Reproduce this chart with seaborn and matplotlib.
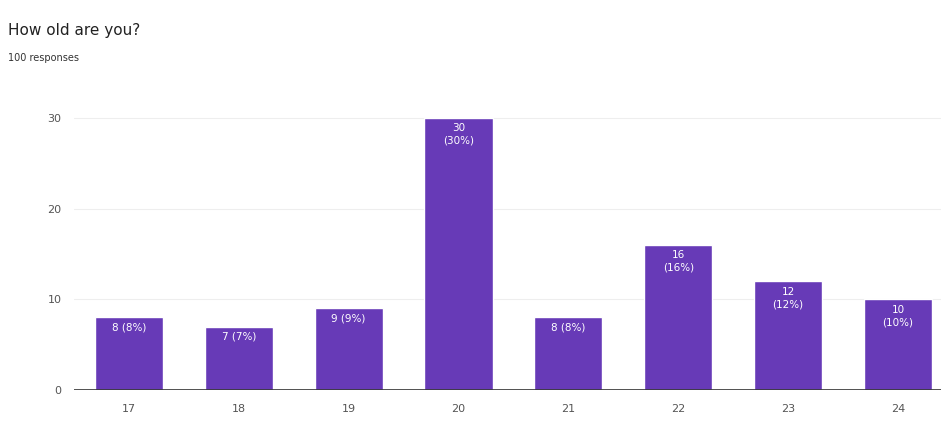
import matplotlib
matplotlib.use("Agg")
import matplotlib.pyplot as plt
import seaborn as sns
import pandas as pd

ages = ["17", "18", "19", "20", "21", "22", "23", "24"]
counts = [8, 7, 9, 30, 8, 16, 12, 10]
total = 100
yticks = [0, 10, 20, 30]

sns.set_theme(style="white")
plt.rcParams['font.family'] = ['DejaVu Sans']

df = pd.DataFrame({"age": ages, "count": counts})

fig = plt.figure(figsize=(9.41, 4.22), dpi=100)
px_per_unit = 272 / 30.0
ymax = 31
bottom_px = 390
top_px = bottom_px - ymax * px_per_unit
ax = fig.add_axes([74 / 941, 1 - bottom_px / 422, 1 - 74 / 941, (bottom_px - top_px) / 422])

sns.barplot(data=df, x="age", y="count", color="#673ab7", saturation=1, width=0.62, ax=ax, zorder=3)

ax.set_xlim(-0.5, 7 + (941 - 898) / 110)
ax.set_ylim(0, ymax)
ax.set_yticks(yticks)
ax.set_xlabel("")
ax.set_ylabel("")
for s in ax.spines.values():
    s.set_visible(False)
ax.axhline(0, color="#333333", lw=1.2, zorder=4)
for y in yticks[1:]:
    ax.axhline(y, color="#eeeeee", lw=0.8, zorder=1)
ax.tick_params(axis="both", length=0, labelsize=8, labelcolor="#555555")
ax.tick_params(axis="y", pad=9)
ax.tick_params(axis="x", pad=10)

for i, c in enumerate(counts):
    pct = round(100 * c / total)
    if c >= 10:
        txt = f"{c}\n({pct}%)"
    else:
        txt = f"{c} ({pct}%)"
    ax.text(i, c - 0.6, txt, ha="center", va="top", color="white", fontsize=7.5,
            linespacing=1.3, zorder=5)

fig.text(8 / 941, 1 - 30 / 422, "How old are you?", fontsize=11, color="#222222", va="center")
fig.text(8 / 941, 1 - 58 / 422, "100 responses", fontsize=7, color="#333333", va="center")

fig.savefig("out.png", dpi=100)
